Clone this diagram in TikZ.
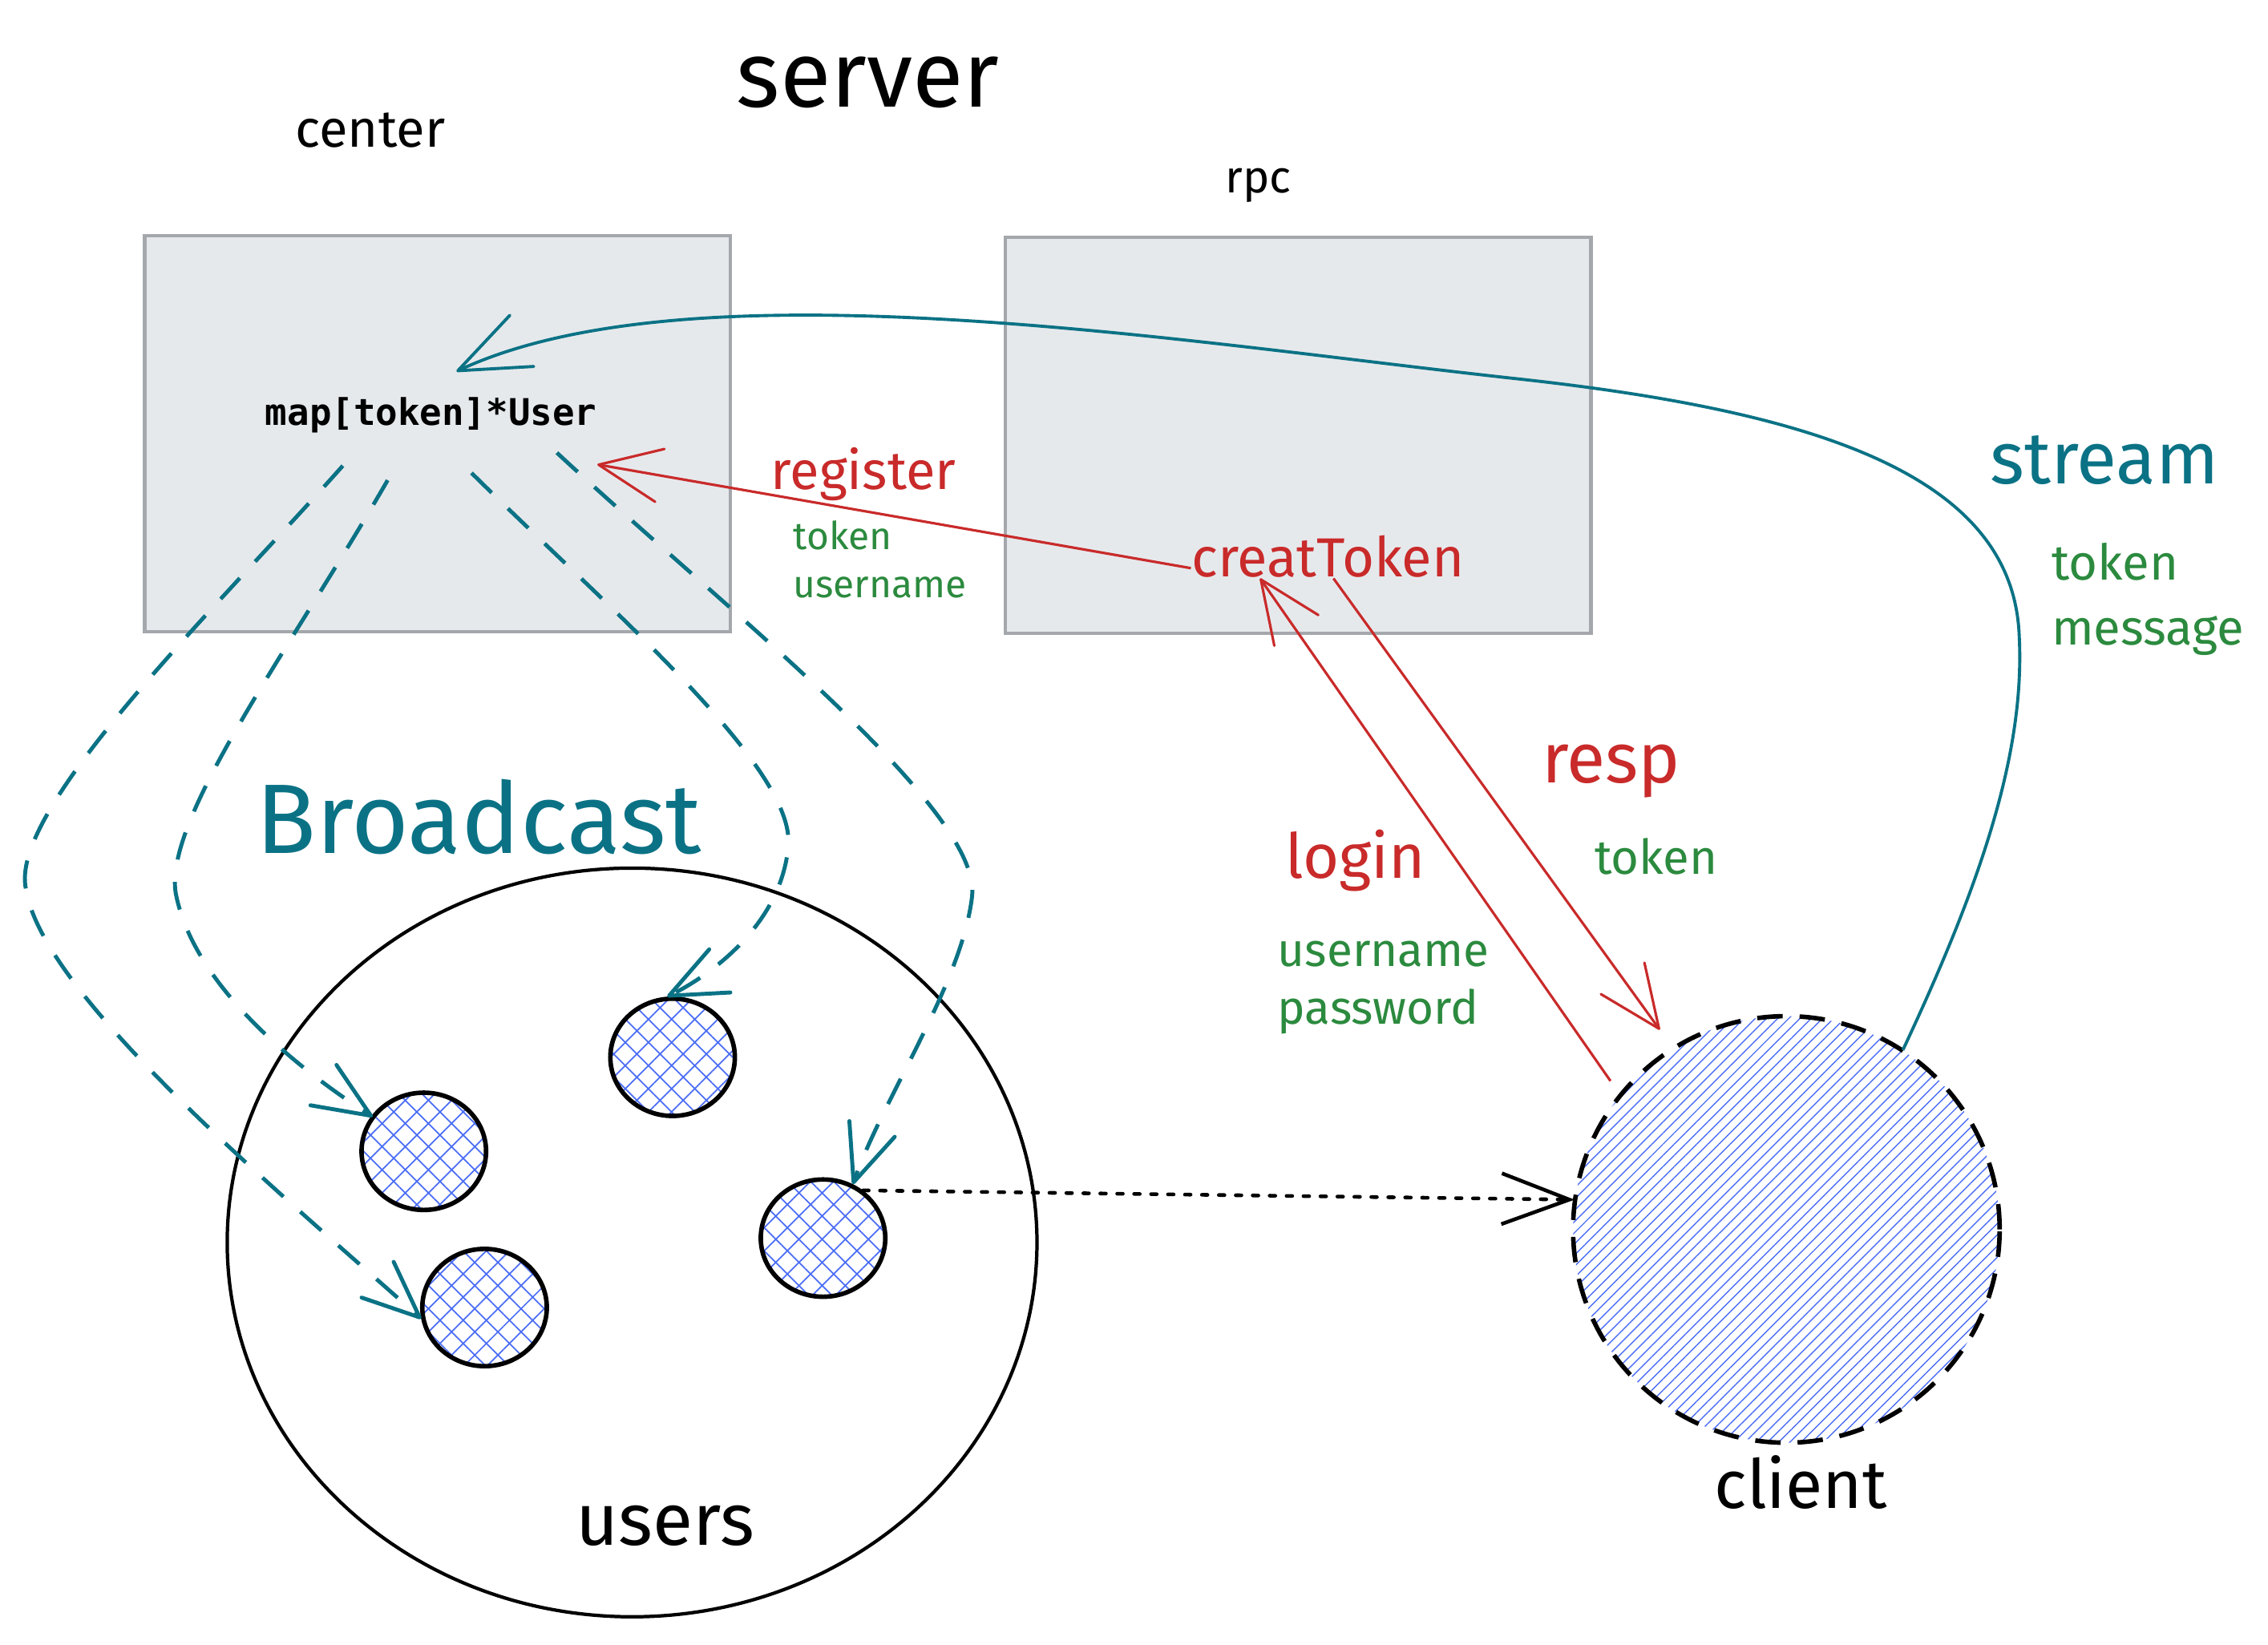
\documentclass[tikz,border=0pt]{standalone}
\usepackage{fontspec}
\setmainfont{Fira Sans}
\newfontfamily\codefont{DejaVu Sans Mono}
\usetikzlibrary{arrows.meta,patterns.meta,shapes.geometric}
\definecolor{lineteal}{HTML}{0B7285}
\definecolor{notered}{HTML}{C92A2A}
\definecolor{notegreen}{HTML}{2B8A3E}
\definecolor{hatchblue}{HTML}{4C6EF5}
\definecolor{boxgrey}{HTML}{E6E9EC}
\definecolor{boxedge}{HTML}{A4A8AC}
\newcommand{\fs}[2]{\fontsize{#1}{#2}\selectfont}

\begin{document}
\begin{tikzpicture}[x=0.018cm,y=-0.018cm,
  lbl/.style={inner sep=0pt},
  box/.style={draw=boxedge,fill=boxgrey,line width=1.2pt,minimum width=7.29cm,minimum height=4.93cm},
  userdot/.style={ellipse,draw,line width=1.6pt,minimum width=1.55cm,minimum height=1.46cm,pattern={Hatch[angle=45,distance=5.8pt,line width=0.5pt]},pattern color=hatchblue},
  bcast/.style={lineteal,line width=1.4pt,dash pattern=on 10pt off 8pt,-{Straight Barb[length=20pt,width=17pt,round]}},
  call/.style={notered,line width=0.9pt,-{Straight Barb[length=22pt,width=19pt,round]}},
  stream/.style={lineteal,line width=1.1pt,-{Straight Barb[length=25pt,width=20pt,round]}},
  peer/.style={line width=1.3pt,line cap=round,dash pattern=on 2pt off 4pt,-{Straight Barb[length=24pt,width=18pt]}}]
\useasboundingbox (0,0) rectangle (1568,1137);

\node[box] (centerbox) at (302.5,300) {};
\node[box] (rpcbox) at (897.5,301) {};
\node[lbl,font=\fs{33}{33}] (server) at (600,57) {server};
\node[lbl,font=\fs{18.5}{18.5}] (centerlbl) at (256,90) {center};
\node[lbl,font=\fs{16}{16}] (rpclbl) at (870,128) {rpc};
\node[lbl,font=\codefont\bfseries\fs{13}{13}] (map) at (298,287) {map[token]*User};
\node[lbl,font=\fs{19.5}{19.5},text=notered] (ct) at (918,385) {creatToken};

\node[ellipse,draw,line width=1.2pt,minimum width=10.08cm,minimum height=9.32cm] (users) at (437,859) {};
\node[userdot] (u1) at (293,796) {};
\node[userdot] (u2) at (465,731) {};
\node[userdot] (u3) at (335,904) {};
\node[userdot] (u4) at (569,856) {};
\node[circle,draw,line width=1.6pt,dash pattern=on 9pt off 6pt,minimum size=5.31cm,pattern={Lines[angle=45,distance=2.8pt,line width=0.4pt]},pattern color=hatchblue] (client) at (1235,850) {};

\node[lbl,font=\fs{35}{35},text=lineteal] (bclbl) at (331,565) {Broadcast};
\node[lbl,font=\fs{26}{26}] (userslbl) at (460,1055) {users};
\node[lbl,font=\fs{24}{24}] (clientlbl) at (1245,1025) {client};
\node[lbl,font=\fs{26}{26},text=lineteal] (streamlbl) at (1455,318) {stream};
\node[lbl,font=\fs{17.5}{23},text=notegreen,align=left,anchor=west] (streamargs) at (1418,414) {token\\message};
\node[lbl,font=\fs{19}{19},text=notered] (reglbl) at (597,328) {register};
\node[lbl,font=\fs{13.6}{17},text=notegreen,align=left,anchor=west] (regargs) at (548,387) {token\\username};
\node[lbl,font=\fs{22}{22},text=notered] (loginlbl) at (937,595) {login};
\node[lbl,font=\fs{16.6}{20.5},text=notegreen,align=left,anchor=west] (loginargs) at (883,683) {username\\password};
\node[lbl,font=\fs{25}{25},text=notered] (resplbl) at (1114,533) {resp};
\node[lbl,font=\fs{17}{17},text=notegreen] (respargs) at (1145,592) {token};

\coordinate (b1) at (237,322);
\coordinate (b2) at (268,332);
\coordinate (b3) at (326,327);
\coordinate (b4) at (385,313);
\draw[bcast] (b1) .. controls (150,420) and (5,560) .. (18,615) .. controls (30,690) and (200,830) .. (u3.190);
\draw[bcast] (b2) .. controls (200,450) and (110,570) .. (122,620) .. controls (135,680) and (200,735) .. (u1.146);
\draw[bcast] (b3) .. controls (420,420) and (550,530) .. (545,585) .. controls (540,640) and (490,675) .. (u2.95);
\draw[bcast] (b4) .. controls (500,420) and (680,560) .. (672,620) .. controls (665,680) and (610,760) .. (u4.61);
\draw[peer] (u4.50) -- (client.172);

\draw[stream] (client.57) .. controls (1370,610) and (1400,520) .. (1396,440) .. controls (1392,330) and (1260,285) .. (1050,262) .. controls (820,237) and (480,180) .. ([xshift=9pt,yshift=9pt]map.north);
\draw[call] ([yshift=-4pt]ct.west) -- ([yshift=-11pt]map.south east);
\draw[call,shorten <=6pt] (client.141) -- ([xshift=-24pt]ct.south);
\draw[call,shorten >=8pt] ([xshift=2pt]ct.south) -- (client.122);
\end{tikzpicture}
\end{document}
